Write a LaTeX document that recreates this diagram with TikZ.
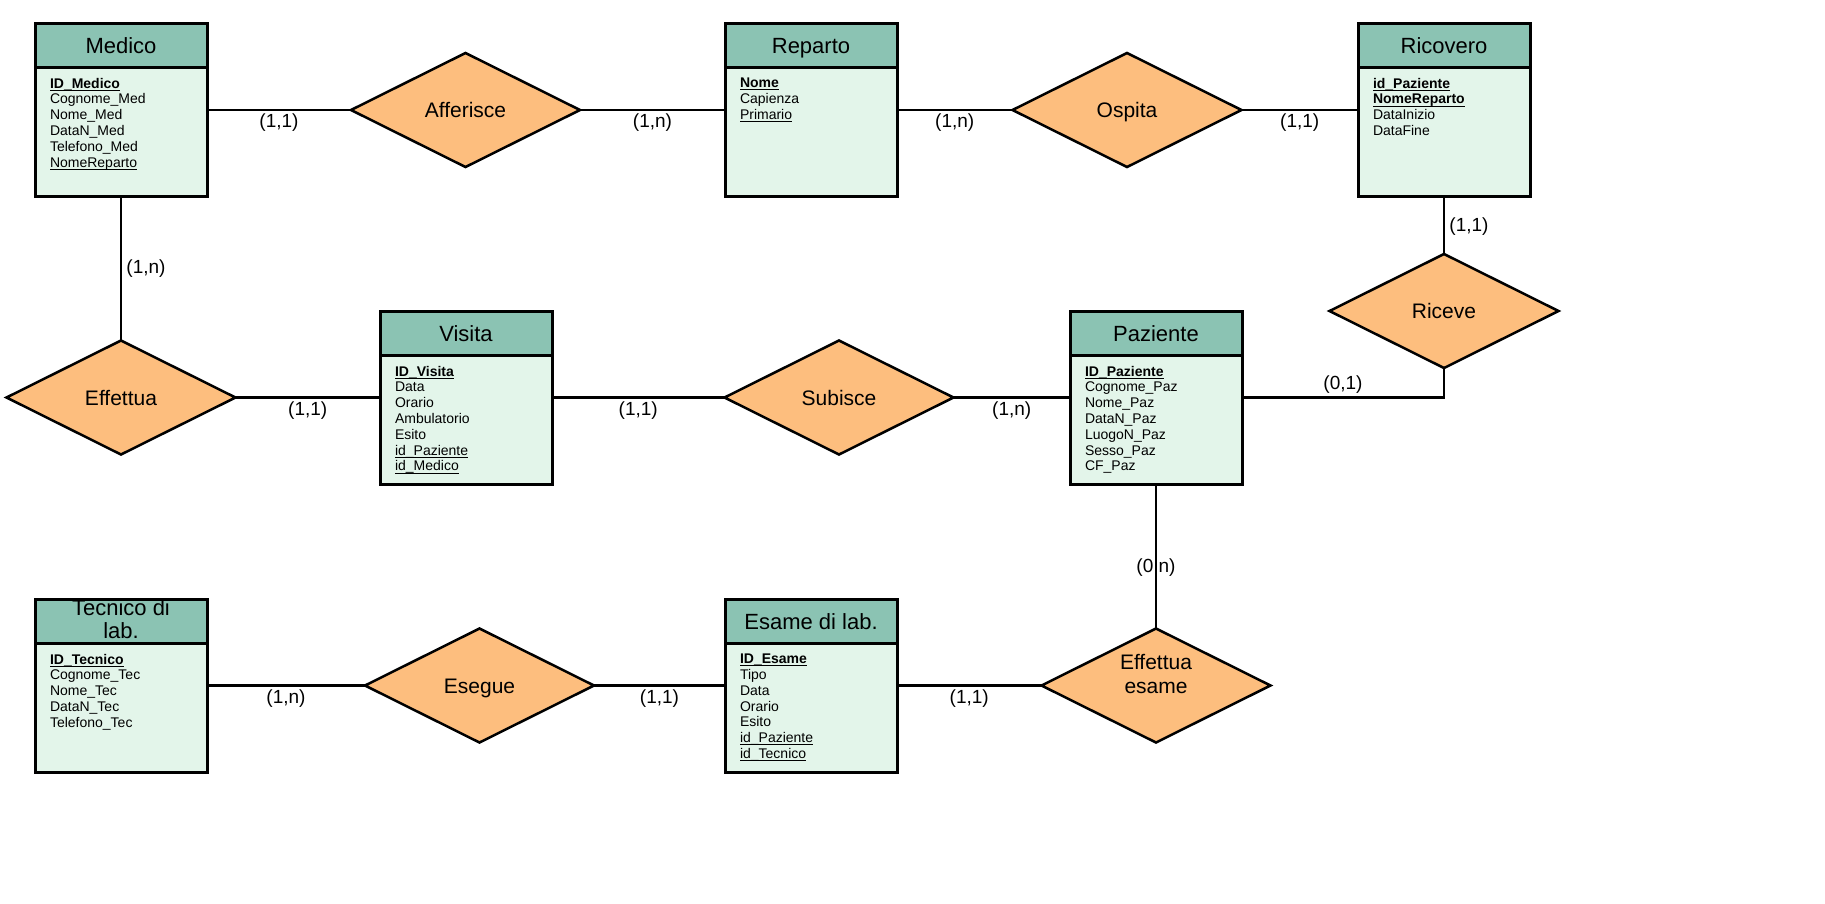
\documentclass[tikz,border=0pt]{standalone}
\usepackage{fontspec}
\setmainfont{Liberation Sans}
\usetikzlibrary{positioning,shapes.geometric}

\definecolor{headfill}{HTML}{8BC3B3}
\definecolor{bodyfill}{HTML}{E3F5EA}
\definecolor{relfill}{HTML}{FDBE7E}

\newsavebox{\attrbox}
\newcommand{\fkey}[1]{\sbox{\attrbox}{#1}\rlap{\rule[-2.6pt]{\wd\attrbox}{0.9pt}}\usebox{\attrbox}}
\newcommand{\pkey}[1]{\fkey{\textbf{#1}}}

\tikzset{
  entityhead/.style={draw, line width=3pt, fill=headfill, minimum width=172pt,
    minimum height=44pt, inner sep=0pt, outer sep=0pt, align=center,
    text height=20pt, text depth=4pt, font=\fontsize{22}{23}\selectfont},
  entitybody/.style={draw, line width=3pt, fill=bodyfill, minimum width=172pt,
    minimum height=129pt, inner sep=0pt, outer sep=0pt},
  attrlist/.style={inner sep=0pt, outer sep=0pt, align=left,
    font=\fontsize{14}{15.8}\selectfont},
  relation/.style={diamond, draw, line width=2.5pt, fill=relfill, aspect=2,
    minimum width=229pt, minimum height=114pt, inner sep=0pt, outer sep=0pt,
    align=center, text height=19pt, text depth=4pt, font=\fontsize{21}{24}\selectfont},
  link/.style={line width=2.5pt},
  card/.style={inner sep=0pt, font=\fontsize{19}{20}\selectfont}
}

\begin{document}
\begin{tikzpicture}[x=1pt,y=-1pt]
  \useasboundingbox (0,0) rectangle (1825,903);

  % Entity Medico
  \node[entityhead] (medico) at (121,45) {Medico};
  \node[entitybody, below=0pt of medico] (medico-body) {};
  \node[attrlist, below right=11pt and 15pt of medico-body.north west] (medico-attr)
    {\pkey{ID\_Medico}\\Cognome\_Med\\Nome\_Med\\DataN\_Med\\Telefono\_Med\\\fkey{NomeReparto}};

  % Entity Reparto
  \node[entityhead] (reparto) at (811,45) {Reparto};
  \node[entitybody, below=0pt of reparto] (reparto-body) {};
  \node[attrlist, below right=11pt and 15pt of reparto-body.north west] (reparto-attr)
    {\pkey{Nome}\\Capienza\\\fkey{Primario}};

  % Entity Ricovero
  \node[entityhead] (ricovero) at (1444,45) {Ricovero};
  \node[entitybody, below=0pt of ricovero] (ricovero-body) {};
  \node[attrlist, below right=11pt and 15pt of ricovero-body.north west] (ricovero-attr)
    {\pkey{id\_Paziente}\\\pkey{NomeReparto}\\DataInizio\\DataFine};

  % Entity Visita
  \node[entityhead] (visita) at (466,333) {Visita};
  \node[entitybody, below=0pt of visita] (visita-body) {};
  \node[attrlist, below right=11pt and 15pt of visita-body.north west] (visita-attr)
    {\pkey{ID\_Visita}\\Data\\Orario\\Ambulatorio\\Esito\\\fkey{id\_Paziente}\\\fkey{id\_Medico}};

  % Entity Paziente
  \node[entityhead] (paziente) at (1156,333) {Paziente};
  \node[entitybody, below=0pt of paziente] (paziente-body) {};
  \node[attrlist, below right=11pt and 15pt of paziente-body.north west] (paziente-attr)
    {\pkey{ID\_Paziente}\\Cognome\_Paz\\Nome\_Paz\\DataN\_Paz\\LuogoN\_Paz\\Sesso\_Paz\\CF\_Paz};

  % Entity Tecnico di lab.
  \node[entityhead] (tecnico) at (121,621) {};
  \node[entitybody, below=0pt of tecnico] (tecnico-body) {};
  \node[align=center, font=\fontsize{22}{23}\selectfont, inner sep=0pt] (tecnico-title)
    at ([yshift=2pt]tecnico.center) {Tecnico di\\lab.};
  \node[attrlist, below right=11pt and 15pt of tecnico-body.north west] (tecnico-attr)
    {\pkey{ID\_Tecnico}\\Cognome\_Tec\\Nome\_Tec\\DataN\_Tec\\Telefono\_Tec};

  % Entity Esame di lab.
  \node[entityhead] (esame) at (811,621) {Esame di lab.};
  \node[entitybody, below=0pt of esame] (esame-body) {};
  \node[attrlist, below right=11pt and 15pt of esame-body.north west] (esame-attr)
    {\pkey{ID\_Esame}\\Tipo\\Data\\Orario\\Esito\\\fkey{id\_Paziente}\\\fkey{id\_Tecnico}};

  % Relations
  \node[relation] (afferisce) at (465.5,110) {Afferisce};
  \node[relation] (ospita) at (1127,110) {Ospita};
  \node[relation] (riceve) at (1444,311) {Riceve};
  \node[relation] (effettua) at (121,397.5) {Effettua};
  \node[relation] (subisce) at (839,397.5) {Subisce};
  \node[relation] (esegue) at (479.5,685.5) {Esegue};
  \node[relation] (effesame) at (1156,685.5) {Effettua\\esame};

  % Links of the top row
  \draw[link] (afferisce.west -| medico-body.east) -- (afferisce.west)
    node[card, midway, yshift=-13pt] {(1,1)};
  \draw[link] (afferisce.east) -- (afferisce.east -| reparto-body.west)
    node[card, midway, yshift=-13pt] {(1,n)};
  \draw[link] (ospita.west -| reparto-body.east) -- (ospita.west)
    node[card, midway, yshift=-13pt] {(1,n)};
  \draw[link] (ospita.east) -- (ospita.east -| ricovero-body.west)
    node[card, midway, yshift=-13pt] {(1,1)};

  % Vertical links
  \draw[link] (medico-body.south) -- (effettua.north)
    node[card, midway, xshift=25pt] {(1,n)};
  \draw[link] (ricovero-body.south) -- (riceve.north)
    node[card, midway, xshift=25pt, yshift=-2pt] {(1,1)};
  \path (paziente-body.south) -- (effesame.north)
    node[card, pos=0.58] {(0,n)};
  \draw[link] (paziente-body.south) -- (effesame.north);

  % Links of the middle row
  \draw[link] (effettua.east) -- (effettua.east -| visita-body.west)
    node[card, midway, yshift=-13pt] {(1,1)};
  \draw[link] (subisce.west -| visita-body.east) -- (subisce.west)
    node[card, midway, yshift=-13pt] {(1,1)};
  \draw[link] (subisce.east) -- (subisce.east -| paziente-body.west)
    node[card, midway, yshift=-13pt] {(1,n)};
  \draw[link] (riceve.south) |- (subisce.east -| paziente-body.east)
    node[card, pos=0.75, yshift=13pt] {(0,1)};

  % Links of the bottom row
  \draw[link] (esegue.west -| tecnico-body.east) -- (esegue.west)
    node[card, midway, yshift=-13pt] {(1,n)};
  \draw[link] (esegue.east) -- (esegue.east -| esame-body.west)
    node[card, midway, yshift=-13pt] {(1,1)};
  \draw[link] (effesame.west -| esame-body.east) -- (effesame.west)
    node[card, midway, yshift=-13pt] {(1,1)};
\end{tikzpicture}
\end{document}
